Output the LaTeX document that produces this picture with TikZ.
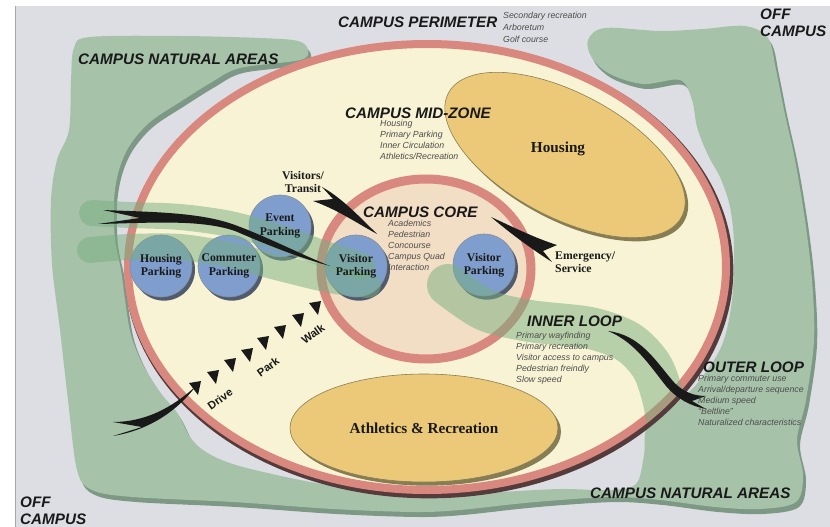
\documentclass[tikz,border=0pt]{standalone}
\usepackage{fontspec}
\setmainfont{Liberation Serif}
\setsansfont{Liberation Sans}
\usetikzlibrary{shapes.geometric,shadows}
\definecolor{bggray}{RGB}{221,222,227}
\definecolor{natgreen}{RGB}{166,195,170}
\definecolor{natshade}{RGB}{125,152,132}
\definecolor{cream}{RGB}{247,243,212}
\definecolor{ringred}{RGB}{216,136,126}
\definecolor{ringdark}{RGB}{85,60,60}
\definecolor{corefill}{RGB}{242,222,196}
\definecolor{sand}{RGB}{236,201,120}
\definecolor{sandshade}{RGB}{135,125,85}
\definecolor{parkblue}{RGB}{127,158,205}
\definecolor{parkshade}{RGB}{80,92,110}
\definecolor{bandgreen}{RGB}{120,175,128}
\definecolor{ink}{RGB}{25,25,25}
\newcommand{\naturalarea}{plot[smooth cycle, tension=0.55] coordinates {(588,40) (605,28) (660,31) (703,29) (745,26) (768,38) (776,70) (784,110) (795,160) (805,220) (812,280) (814,340) (806,400) (797,440) (803,475) (796,502) (760,509) (715,507) (660,500) (615,497) (560,500) (515,504) (460,510) (415,512) (333,509) (233,502) (133,497) (92,490) (77,470) (68,400) (60,330) (52,264) (51,200) (57,160) (69,130) (71,80) (74,48) (90,37) (180,36) (260,38) (298,41) (308,50) (300,60) (240,68) (212,82) (180,102) (150,122) (130,145) (119,170) (114,200) (115,240) (121,270) (125,300) (131,335) (143,365) (160,392) (178,414) (190,437) (206,452) (236,465) (300,480) (360,490) (415,496) (500,492) (560,489) (610,490) (636,484) (644,455) (648,425) (680,400) (700,380) (722,345) (732,300) (734,245) (730,207) (720,177) (707,153) (697,127) (692,100) (680,80) (643,84) (610,74) (592,58)}}
\begin{document}
\begin{tikzpicture}[x=0.3mm, y=-0.3mm,
  head/.style={font=\sffamily\bfseries\itshape\fontsize{13}{14.5}\selectfont, text=ink, anchor=west, inner sep=0pt},
  notes/.style={font=\sffamily\itshape\fontsize{7.5}{9.3}\selectfont, text=black!70, align=left, anchor=north west, inner sep=0pt},
  lbl/.style={font=\bfseries\fontsize{10}{11.5}\selectfont, text=ink, align=center, inner sep=0pt},
  big/.style={font=\bfseries\fontsize{13}{15}\selectfont, text=ink, inner sep=0pt},
  cue/.style={font=\sffamily\bfseries\fontsize{9.5}{11}\selectfont, text=ink, rotate=36, inner sep=0pt},
  lot/.style={circle, minimum size=18.6mm, inner sep=0pt, fill=parkblue, draw=parkshade!70, line width=0.5pt,
    drop shadow={shadow xshift=0.9mm, shadow yshift=-1.1mm, fill=parkshade, opacity=1}},
  zone/.style={ellipse, inner sep=0pt, fill=sand, draw=sandshade, line width=0.5pt,
    drop shadow={shadow xshift=0.9mm, shadow yshift=-1.1mm, fill=sandshade, opacity=1}},
  band/.style={draw=bandgreen, draw opacity=0.5, line cap=round, line join=round},
  brush/.style={fill=ink}]
\useasboundingbox (0,0) rectangle (830,527);
\fill[white] (0,0) rectangle (830,527);
\fill[bggray] (15,6) rectangle (830,527);
\draw[black!35, line width=0.4pt] (15,527) -- (15,6);

\fill[natshade, shift={(3,5)}] \naturalarea;
\fill[natgreen] \naturalarea;

\draw[ringdark, line width=3.2mm, shift={(2,3)}] (427,267) ellipse [x radius=299, y radius=223];
\draw[ringred, line width=2.4mm, fill=cream] (427,267) ellipse [x radius=299, y radius=223];

\node[zone, rotate=-28, minimum width=79.2mm, minimum height=37.2mm] at (565,155) (housing) {};
\draw[ringred, line width=2.7mm, fill=corefill] (426,269) ellipse [x radius=105, y radius=90];
\node[zone, minimum width=80.4mm, minimum height=32.4mm] at (424,428) (athletics) {};

\node[lot] at (161,266) (hlot) {};
\node[lot] at (229,266) (clot) {};
\node[lot] at (280,226) (elot) {};
\node[lot] at (356,266) (vlotwest) {};
\node[lot] at (484,265) (vloteast) {};

\draw[band, line width=7.8mm] plot[smooth] coordinates {(92,213) (130,215) (180,217) (230,224) (280,238) (322,253) (362,266)};
\draw[band, line width=7.8mm] plot[smooth] coordinates {(90,250) (130,247) (180,247) (230,255) (280,268) (330,280) (368,285)};
\begin{scope}
  \clip (427,267) ellipse [x radius=303, y radius=227];
  \draw[band, line width=12.6mm] plot[smooth] coordinates {(448,285) (485,310) (530,321) (590,328) (628,342) (652,367) (664,402) (669,440) (672,478)};
\end{scope}

\fill[brush] (322,187) .. controls (340,197) and (355,212) .. (377,234) .. controls (355,222) and (338,210) .. (313,201) -- (333,199) -- cycle;
\fill[brush] (491,217) .. controls (515,228) and (535,238) .. (557,245) -- (543,251) -- (552,262) .. controls (530,248) and (510,233) .. (491,217) -- cycle;
\fill[brush] (103,210) .. controls (150,212) and (200,212) .. (235,225) .. controls (270,238) and (300,254) .. (330,266) .. controls (300,258) and (270,246) .. (235,231) .. controls (200,219) and (150,223) .. (98,224) -- (140,218) -- cycle;
\fill[brush] (113,422) .. controls (145,422) and (172,408) .. (196,386) .. controls (178,410) and (150,430) .. (113,436) -- (142,427) -- cycle;
\fill[brush] (608,331) .. controls (640,335) and (655,360) .. (672,380) .. controls (682,392) and (694,396) .. (706,396) -- (692,401) -- (706,409) .. controls (690,406) and (676,398) .. (666,386) .. controls (650,366) and (635,342) .. (608,331) -- cycle;
\foreach \x/\y in {195/388, 213/377, 230/365, 247/355, 263/343, 280/332, 298/320, 315/308}
  \fill[ink, shift={(\x,\y)}] (-6,-5) -- (6,-7) -- (3,7) -- cycle;

\node[head] at (338,22) (perimeter) {CAMPUS PERIMETER};
\node[notes, font=\sffamily\itshape\fontsize{7.5}{10.2}\selectfont] at (503,12) (perimnotes) {Secondary recreation\\Arboretum\\Golf course};
\node[head, align=left] at (760,23) (offnorth) {OFF\\CAMPUS};
\node[head, align=left] at (20,511) (offsouth) {OFF\\CAMPUS};
\node[head] at (78,59) (natnorth) {CAMPUS NATURAL AREAS};
\node[head] at (590,493) (natsouth) {CAMPUS NATURAL AREAS};
\node[head] at (345,113) (midzone) {CAMPUS MID-ZONE};
\node[notes] at (380,120) (midnotes) {Housing\\Primary Parking\\Inner Circulation\\Athletics/Recreation};
\node[head] at (363,212) (core) {CAMPUS CORE};
\node[notes] at (388,220) (corenotes) {Academics\\Pedestrian\\Concourse\\Campus Quad\\Interaction};
\node[head] at (527,321) (innerloop) {INNER LOOP};
\node[notes] at (516,332) (innernotes) {Primary wayfinding\\Primary recreation\\Visitor access to campus\\Pedestrian freindly\\Slow speed};
\node[head] at (703,367) (outerloop) {OUTER LOOP};
\node[notes] at (698,375) (outernotes) {Primary commuter use\\Arrival/departure sequence\\Medium speed\\``Beltline''\\Naturalized characteristics};

\node[big] at (558,149) (housinglbl) {Housing};
\node[big] at (athletics) (athleticslbl) {Athletics \& Recreation};
\node[lbl] at (hlot) (hlotlbl) {Housing\\Parking};
\node[lbl] at (clot) (clotlbl) {Commuter\\Parking};
\node[lbl] at (elot) (elotlbl) {Event\\Parking};
\node[lbl] at (vlotwest) (vwestlbl) {Visitor\\Parking};
\node[lbl] at (vloteast) (veastlbl) {Visitor\\Parking};
\node[lbl] at (303,182) (transit) {Visitors/\\Transit};
\node[lbl, align=left, anchor=west] at (555,262) (emergency) {Emergency/\\Service};
\node[cue] at (220,399) (drive) {Drive};
\node[cue] at (268,367) (park) {Park};
\node[cue] at (313,334) (walk) {Walk};
\end{tikzpicture}
\end{document}
